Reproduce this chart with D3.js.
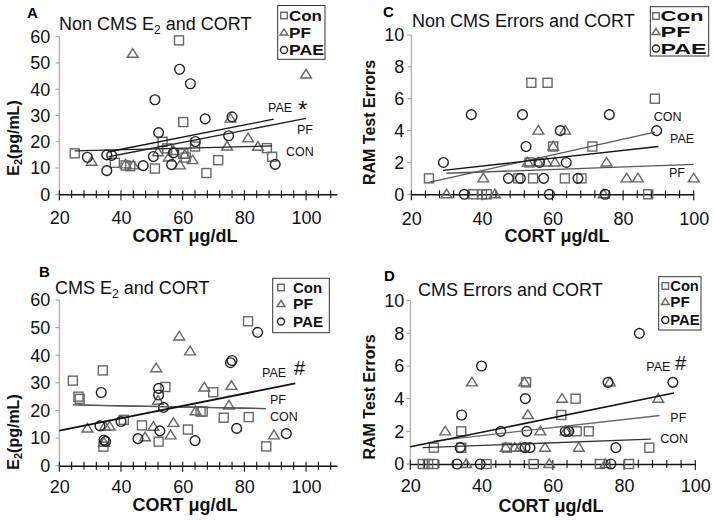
<!DOCTYPE html>
<html><head><meta charset="utf-8">
<script src="https://cdn.jsdelivr.net/npm/d3@7"></script>
<style>body{margin:0;background:#fff} svg{display:block;font-family:"Liberation Sans",Arial,sans-serif}</style>
</head><body><svg id="c" width="714" height="520"></svg>
<script>
// ---------------- DATA ----------------
const groups = ["Con", "PF", "PAE"];
const xTickLabels = [20, 40, 60, 80, 100];
const yTicksE2 = [0, 10, 20, 30, 40, 50, 60];
const yTicksErr = [0, 2, 4, 6, 8, 10];

// Panel A: Non CMS E2 and CORT  [CORT, E2]
const aCon = [[25,15.6],[38,12],[41.5,11],[43,10.7],[51,9.8],[53.5,20],[55,17.5],[58.8,58.6],[60.2,27.5],[60.2,15.5],[61,14],[64,18.2],[67.7,8.1],[71.5,13],[87.3,17.6],[89,14.3]];
const aPF  = [[30.5,12.4],[43.8,53.5],[41.5,11.4],[44,11],[52,16],[55.5,14],[57,16.5],[59.1,11],[60.7,15],[63.2,13],[74.4,18.2],[75.5,28.8],[81.2,21.3],[84.4,18.1],[100,45.6]];
const aPAE = [[29.1,14.1],[35.4,15],[37,14.8],[35.4,9],[47.2,10.9],[50.5,14.4],[51,36],[52.2,23.5],[56.4,11.3],[57,15.8],[59,47.6],[62.5,42.1],[64.1,20.1],[67.3,28.7],[74.9,22.3],[76,29.5],[90,11.4]];
const aTrend = [["CON",25,16.5,89,18.4],["PF",36,14.3,100,28.9],["PAE",36,16.2,89.5,28.6]];

// Panel B: CMS E2 and CORT
const bCon = [[24.4,30.8],[26.2,25],[26.6,24.2],[34.1,34.5],[34.3,6.9],[40.9,16.6],[46.8,14.6],[52.2,8.7],[54.4,28.5],[61.7,13.1],[65.8,19.6],[66.5,19.6],[69.9,26.6],[73.3,17.4],[81.2,52.3],[81.4,17.6],[87.1,7]];
const bPF  = [[29.1,13.5],[34.8,14.2],[36.3,14.2],[34.5,8.3],[47.8,10.3],[50.5,14.1],[51.4,35.3],[52,23.5],[56.1,11],[57,15.5],[58.9,46.8],[62.4,41.4],[64.2,19.7],[67,28.3],[75,21.8],[75.8,28.9],[89.6,11]];
const bPAE = [[33.6,26.5],[33.2,14.4],[34.5,9.3],[35,8.8],[40,16],[45.5,9.8],[52.2,28],[52.2,25.6],[53.8,21.1],[52.6,12.6],[64,9.1],[75.5,37.3],[76,38.1],[77.5,13.5],[84.3,48.3],[93.6,11.6]];
const bTrend = [["CON",24.4,22,87,20.7],["PF",26,21.9,87,20.7],["PAE",20,12.7,96.5,29.8]];

// Panel C: Non CMS Errors and CORT
const cCon = [[25,1],[37.6,0],[40,0],[41.4,0],[50.3,1],[53.5,2],[54,7],[54.5,1],[58.6,7],[60.2,3],[63.5,1],[68.2,1],[71.3,3],[87.1,0],[89,6]];
const cPF  = [[30,0],[40.4,1],[43.7,0],[53,2],[56,4],[56,2],[58.3,2],[60.2,3],[60.7,2],[63.6,4],[74.5,0],[75.3,2],[81,1],[84.2,1],[100,1]];
const cPAE = [[29.1,2],[35,0],[37,5],[47.5,1],[50.9,1],[51.5,5],[52.5,3],[56.3,2],[57.5,1],[59.1,0],[62.2,4],[63.9,2],[67.2,1],[74.9,0],[76.1,5],[89.5,4]];
const cTrend = [["CON",25,0.75,89,3.9],["PAE",29,1.5,90,3.0],["PF",30,1.32,100,1.88]];

// Panel D: CMS Errors and CORT
const dCon = [[23.5,0],[25,0],[26.5,0],[26.6,1],[34.3,2],[34.3,1],[41.4,0],[47.1,1],[52.5,5],[54.6,0],[62.4,3],[66.4,4],[66.7,2],[70.1,2],[73.2,0],[81.4,0],[87.1,1]];
const dPF  = [[29.8,2],[37.3,5],[35.7,0],[46.8,1],[49.3,1],[50.8,1],[52,5],[53,3],[56.5,2],[57.8,1],[59,0],[62.6,4],[63.6,2],[67.3,1],[74.8,0],[76,5],[89.6,4]];
const dPAE = [[33.1,0],[34,1],[34.4,3],[39.6,0],[40,6],[45.4,2],[52.3,4],[52.7,2],[52.2,1],[53.6,1],[63.5,2],[64.5,2],[75.5,5],[76.3,0],[77.7,1],[84.3,8],[93.7,5]];
const dTrend = [["CON",23.5,1.0,87.5,1.52],["PF",26.5,1.4,90,2.97],["PAE",20,1.05,94,4.35]];

// ---------------- LAYOUT ----------------
const svg = d3.select("#c");
const FONT = '"Liberation Sans",Arial,sans-serif';

const panels = [
  { letter:"A", lx:27, ly:18, title:["Non CMS E","2"," and CORT"], tx:59, ty:30,
    xr:[59.3,336.9], xd:[20,110], yr:[194.3,36.7], yd:[0,60], yt:yTicksE2, yLabDx:-9,
    ytitle:["E","2","(pg/mL)"], ytx:19, yty:138, xtx:185, xty:242, xLabY:224.5,
    series:[aCon,aPF,aPAE], trends:aTrend,
    trendStyle:{CON:["#222",1.3],PF:["#222",1.3],PAE:["#111",1.3]},
    tlabels:[["PAE",268,112],["PF",297,134],["CON",286,156]], mark:["*",298,118,24],
    legend:{x:277.7,y:5.5,w:47.3,h:53.8,sx:284,tx:289,base:[20.5,37.5,55],fs:15,tl:[33,22,35]} },
  { letter:"B", lx:39, ly:277, title:["CMS E","2"," and CORT"], tx:55, ty:294.3,
    xr:[59.3,336.9], xd:[20,110], yr:[465.7,300], yd:[0,60], yt:yTicksE2, yLabDx:-9,
    ytitle:["E","2","(pg/mL)"], ytx:19, yty:432, xtx:185, xty:511, xLabY:493.5,
    series:[bCon,bPF,bPAE], trends:bTrend,
    trendStyle:{CON:["#444",1.3],PF:["#555",1.2],PAE:["#111",1.8]},
    tlabels:[["PAE",262,376.5],["PF",270,404],["CON",270,420.5]], mark:["#",294,375,20],
    legend:{x:272.7,y:278.3,w:56.6,h:54.4,sx:281,tx:293,base:[292.5,309,326.5],fs:14.5,tl:[29,20,30]} },
  { letter:"C", lx:383, ly:17, title:["Non CMS Errors and CORT"], tx:412, ty:27.3,
    xr:[411.3,693.7], xd:[20,100], yr:[194.3,35], yd:[0,10], yt:yTicksErr, yLabDx:-7,
    ytitle:["RAM Test Errors"], ytx:375, yty:122.5, xtx:557, xty:241.5, xLabY:225,
    series:[cCon,cPF,cPAE], trends:cTrend,
    trendStyle:{CON:["#555",1.3],PF:["#555",1.3],PAE:["#111",1.3]},
    tlabels:[["CON",653.7,120.7],["PAE",670,143],["PF",669,176.5]], mark:null,
    legend:{x:650.3,y:6.7,w:58.4,h:49.3,sx:656,tx:660.5,base:[21,37,53.5],fs:15,tl:[43,30,46]} },
  { letter:"D", lx:384, ly:281, title:["CMS Errors and CORT"], tx:418, ty:295.5,
    xr:[410.3,695.3], xd:[20,100], yr:[464,300.7], yd:[0,10], yt:yTicksErr, yLabDx:-6,
    ytitle:["RAM Test Errors"], ytx:375, yty:397, xtx:551, xty:512, xLabY:492,
    series:[dCon,dPF,dPAE], trends:dTrend,
    trendStyle:{CON:["#333",1.3],PF:["#666",1.3],PAE:["#111",1.5]},
    tlabels:[["PAE",646.3,371],["PF",670.3,421.7],["CON",660.3,443.3]], mark:["#",675,370,20],
    legend:{x:658.7,y:276.7,w:42.3,h:53.3,sx:665.3,tx:670.3,base:[291,307,325],fs:14.5,tl:[28.5,19.5,29.5]} }
];

const markColor = {Con:"#666", PF:"#666", PAE:"#222"};

function drawMarker(g, type, x, y, size) {
  if (type === "Con") {
    g.append("rect").attr("x", x - size/2).attr("y", y - size/2)
      .attr("width", size).attr("height", size)
      .attr("fill", "none").attr("stroke", markColor.Con).attr("stroke-width", 1.4);
  } else if (type === "PF") {
    const s = size * 0.6;
    g.append("path").attr("d", `M${x},${y - s*0.95}L${x + s},${y + s*0.65}L${x - s},${y + s*0.65}Z`)
      .attr("fill", "none").attr("stroke", markColor.PF).attr("stroke-width", 1.4);
  } else {
    g.append("circle").attr("cx", x).attr("cy", y).attr("r", size * 0.54)
      .attr("fill", "none").attr("stroke", markColor.PAE).attr("stroke-width", 1.4);
  }
}

panels.forEach(p => {
  const x = d3.scaleLinear().domain(p.xd).range(p.xr);
  const y = d3.scaleLinear().domain(p.yd).range(p.yr);
  const g = svg.append("g");

  g.append("text").attr("x", p.lx).attr("y", p.ly).attr("font-weight", "bold")
    .attr("font-size", 15).text(p.letter);

  const t = g.append("text").attr("x", p.tx).attr("y", p.ty).attr("font-size", 18).attr("fill", "#111");
  t.append("tspan").text(p.title[0]);
  if (p.title.length > 1) {
    t.append("tspan").attr("font-size", 12).attr("dy", 4).text(p.title[1]);
    t.append("tspan").attr("dy", -4).text(p.title[2]);
  }

  // y axis
  g.append("line").attr("x1", p.xr[0]).attr("x2", p.xr[0])
    .attr("y1", y(p.yd[0])).attr("y2", y(p.yd[1])).attr("stroke", "#999").attr("stroke-width", 1);
  p.yt.forEach(v => {
    g.append("line").attr("x1", p.xr[0] - 4).attr("x2", p.xr[0])
      .attr("y1", y(v)).attr("y2", y(v)).attr("stroke", "#999");
    g.append("text").attr("x", p.xr[0] + p.yLabDx).attr("y", y(v) + 6.3)
      .attr("text-anchor", "end").attr("font-size", 18).attr("fill", "#111").text(v);
  });

  // x axis
  const xAxis = d3.axisBottom(x).tickValues(xTickLabels).tickSize(0).tickFormat(d => d);
  const ax = g.append("g").attr("transform", `translate(0,${y(0)})`).call(xAxis);
  ax.select(".domain").attr("stroke", "#111").attr("stroke-width", 1.4);
  ax.selectAll("text").attr("font-size", 18).attr("fill", "#111").attr("font-family", FONT)
    .attr("y", p.xLabY - y(0)).attr("dy", 0);
  d3.range(p.xd[0], p.xd[1] + 0.01, 4).forEach(v => {
    const major = (v - 20) % 20 === 0;
    g.append("line").attr("x1", x(v)).attr("x2", x(v))
      .attr("y1", y(0) - 4).attr("y2", y(0) + (major ? 6 : 4))
      .attr("stroke", "#111").attr("stroke-width", 1.1);
  });

  // axis titles
  g.append("text").attr("x", p.xtx).attr("y", p.xty).attr("text-anchor", "middle")
    .attr("font-weight", "bold").attr("font-size", 18).attr("fill", "#111").text("CORT μg/dL");
  const yt = g.append("text").attr("transform", `translate(${p.ytx},${p.yty}) rotate(-90)`)
    .attr("text-anchor", "middle").attr("font-weight", "bold").attr("font-size", 16).attr("fill", "#111");
  yt.append("tspan").text(p.ytitle[0]);
  if (p.ytitle.length > 1) {
    yt.append("tspan").attr("font-size", 11).attr("dy", 3).text(p.ytitle[1]);
    yt.append("tspan").attr("dy", -3).text(p.ytitle[2]);
  }

  // markers
  p.series.forEach((s, i) => {
    s.forEach(d => drawMarker(g, groups[i], x(d[0]), y(d[1]), 9));
  });

  // trend lines
  p.trends.forEach(tr => {
    const st = p.trendStyle[tr[0]];
    g.append("line").attr("x1", x(tr[1])).attr("y1", y(tr[2]))
      .attr("x2", x(tr[3])).attr("y2", y(tr[4]))
      .attr("stroke", st[0]).attr("stroke-width", st[1]);
  });

  p.tlabels.forEach(l => {
    g.append("text").attr("x", l[1]).attr("y", l[2]).attr("font-size", 12.5)
      .attr("fill", "#111").text(l[0]);
  });
  if (p.mark) {
    g.append("text").attr("x", p.mark[1]).attr("y", p.mark[2]).attr("font-size", p.mark[3])
      .attr("fill", "#111").text(p.mark[0]);
  }

  // legend
  const L = p.legend;
  g.append("rect").attr("x", L.x).attr("y", L.y).attr("width", L.w).attr("height", L.h)
    .attr("fill", "#fff").attr("stroke", "#333").attr("stroke-width", 1);
  groups.forEach((gr, i) => {
    const cy = L.base[i] - 5;
    drawMarker(g, gr, L.sx, cy, 6.5);
    g.append("text").attr("x", L.tx).attr("y", L.base[i]).attr("font-weight", "bold")
      .attr("font-size", L.fs).attr("fill", "#111")
      .attr("textLength", L.tl[i]).attr("lengthAdjust", "spacingAndGlyphs").text(gr);
  });
});
</script>
</body></html>
